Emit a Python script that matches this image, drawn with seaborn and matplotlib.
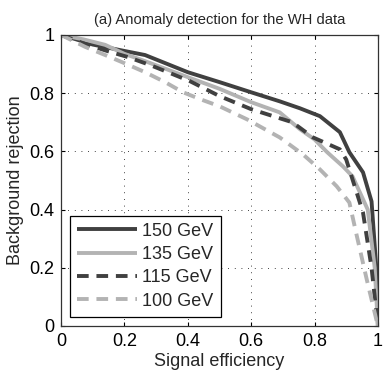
import numpy as np
import pandas as pd
import matplotlib
matplotlib.use("Agg")
import matplotlib.pyplot as plt
import seaborn as sns

sns.set_style("ticks")
plt.rcParams['font.family'] = ['Liberation Sans', 'DejaVu Sans']

labels = ["150 GeV", "135 GeV", "115 GeV", "100 GeV"]

x150 = [0, 0.044, 0.1, 0.2, 0.265, 0.4, 0.5, 0.6, 0.69, 0.754, 0.817, 0.88, 0.91, 0.953, 0.98, 0.995, 1]
y150 = [1, 0.986, 0.967, 0.945, 0.931, 0.872, 0.838, 0.803, 0.772, 0.748, 0.721, 0.666, 0.597, 0.528, 0.428, 0.2, 0]

x135 = [0, 0.07, 0.139, 0.2, 0.265, 0.4, 0.5, 0.6, 0.69, 0.754, 0.8, 0.84, 0.89, 0.92, 0.968, 0.99, 1]
y135 = [1, 0.985, 0.966, 0.935, 0.91, 0.855, 0.815, 0.769, 0.734, 0.676, 0.641, 0.597, 0.548, 0.514, 0.4, 0.2, 0]

x115 = [0, 0.076, 0.145, 0.211, 0.28, 0.344, 0.407, 0.5, 0.6, 0.73, 0.795, 0.88, 0.9, 0.953, 0.98, 1]
y115 = [1, 0.969, 0.945, 0.924, 0.897, 0.869, 0.841, 0.79, 0.745, 0.70, 0.648, 0.607, 0.572, 0.39, 0.2, 0]

x100 = [0, 0.076, 0.139, 0.2, 0.265, 0.328, 0.385, 0.44, 0.5, 0.587, 0.69, 0.763, 0.817, 0.87, 0.91, 0.934, 0.965, 1]
y100 = [1, 0.959, 0.931, 0.903, 0.872, 0.838, 0.803, 0.779, 0.755, 0.71, 0.648, 0.59, 0.538, 0.48, 0.424, 0.307, 0.159, 0]

xs = [x150, x135, x115, x100]
ys = [y150, y135, y115, y100]

dark = "#404040"
light = "#b3b3b3"
colors = [dark, light, dark, light]
dashed = [False, False, True, True]

fig = plt.figure(figsize=(3.92, 3.76), dpi=100)
ax = fig.add_axes([0.156, 0.133, 0.808, 0.774])

lw = 2.8
for lab, x, y, c, d in zip(labels, xs, ys, colors, dashed):
    df = pd.DataFrame({"x": x, "y": y})
    sns.lineplot(data=df, x="x", y="y", ax=ax, color=c, lw=lw, sort=False,
                 estimator=None, label=lab)
    line = ax.lines[-1]
    if d:
        line.set_dashes((3, 2))
    line.set_solid_capstyle("butt")
    line.set_dash_capstyle("butt")

ax.set_xlim(0, 1)
ax.set_ylim(0, 1)
ticks = [0, 0.2, 0.4, 0.6, 0.8, 1]
ticklabels = ["0", "0.2", "0.4", "0.6", "0.8", "1"]
ax.set_xticks(ticks)
ax.set_xticklabels(ticklabels)
ax.set_yticks(ticks)
ax.set_yticklabels(ticklabels)
ax.grid(True, color="black", linestyle=(0, (1, 7)), linewidth=0.6)
ax.tick_params(direction="in", length=3, width=0.8, labelsize=13, top=True, right=True,
               colors="black", pad=5)
for s in ax.spines.values():
    s.set_visible(True)
    s.set_color("#333333")
    s.set_linewidth(0.9)

ax.set_xlabel("Signal efficiency", fontsize=13, labelpad=2)
ax.set_ylabel("Background rejection", fontsize=13, labelpad=4)
ax.set_title("(a) Anomaly detection for the WH data", fontsize=10.6, pad=8)

leg = ax.legend(loc="lower left", fontsize=13, handlelength=3.3, frameon=True,
                fancybox=False, edgecolor="black", borderaxespad=0.5,
                labelspacing=0.35, handletextpad=0.3, borderpad=0.4)
leg.get_frame().set_linewidth(0.9)
leg.get_frame().set_alpha(1)

fig.savefig("out.png", dpi=100)
